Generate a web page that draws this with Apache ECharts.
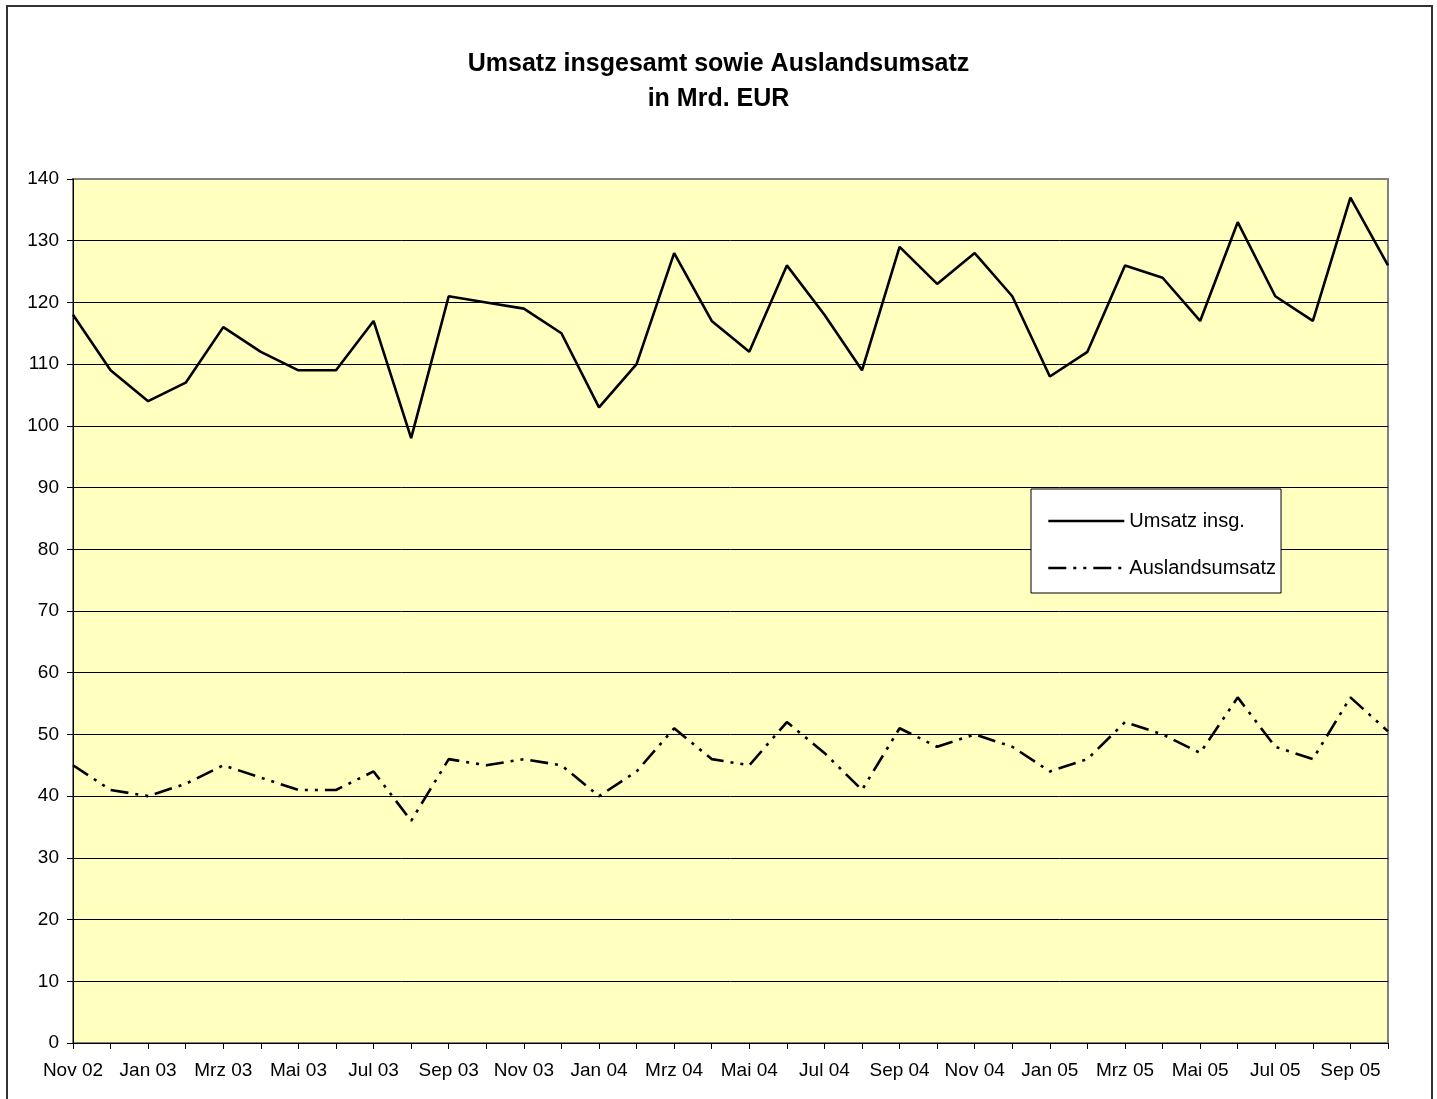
<!DOCTYPE html>
<html>
<head>
<meta charset="utf-8">
<script src="https://cdn.jsdelivr.net/npm/echarts@6/dist/echarts.min.js"></script>
<style>
html,body{margin:0;padding:0;background:#fff;}
#chart{width:1437px;height:1099px;}
</style>
</head>
<body>
<div id="chart"></div>
<script>
const categories = [
  'Nov 02','Dez 02','Jan 03','Feb 03','Mrz 03','Apr 03','Mai 03','Jun 03','Jul 03','Aug 03','Sep 03','Okt 03',
  'Nov 03','Dez 03','Jan 04','Feb 04','Mrz 04','Apr 04','Mai 04','Jun 04','Jul 04','Aug 04','Sep 04','Okt 04',
  'Nov 04','Dez 04','Jan 05','Feb 05','Mrz 05','Apr 05','Mai 05','Jun 05','Jul 05','Aug 05','Sep 05','Okt 05'
];
const umsatzInsg = [
  118, 109, 104, 107, 116, 112, 109, 109, 117, 98, 121, 120,
  119, 115, 103, 110, 128, 117, 112, 126, 118, 109, 129, 123,
  128, 121, 108, 112, 126, 124, 117, 133, 121, 117, 137, 126
];
const auslandsumsatz = [
  45, 41, 40, 42, 45, 43, 41, 41, 44, 36, 46, 45,
  46, 45, 40, 44, 51, 46, 45, 52, 47, 41, 51, 48,
  50, 48, 44, 46, 52, 50, 47, 56, 48, 46, 56, 50.5
];
const seriesNames = ['Umsatz insg.', 'Auslandsumsatz'];
const titleText = 'Umsatz insgesamt sowie Auslandsumsatz\nin Mrd. EUR';

const FONT = 'Arial, "Liberation Sans", sans-serif';
const chart = echarts.init(document.getElementById('chart'), null, {renderer: 'canvas'});
chart.setOption({
  animation: false,
  backgroundColor: '#ffffff',
  title: {
    text: titleText,
    left: 'center',
    top: 42,
    textStyle: {fontFamily: FONT, fontSize: 25, fontWeight: 'bold', color: '#000', lineHeight: 35}
  },
  graphic: [{
    type: 'rect',
    shape: {x: 7, y: 6, width: 1425, height: 1110},
    style: {fill: 'none', stroke: '#333333', lineWidth: 2},
    silent: true,
    z: 100
  }],
  legend: {
    orient: 'vertical',
    left: 1031,
    top: 489,
    padding: [22, 5, 15, 16],
    itemGap: 27,
    itemWidth: 76,
    itemHeight: 20,
    backgroundColor: '#ffffff',
    borderColor: '#000',
    borderWidth: 1,
    itemStyle: {opacity: 0},
    lineStyle: {width: 2.6},
    textStyle: {fontFamily: FONT, fontSize: 20, color: '#000'},
    data: seriesNames
  },
  grid: {
    left: 73, right: 49, top: 179, bottom: 56,
    show: true,
    backgroundColor: '#FFFFC0',
    borderColor: '#808080',
    borderWidth: 2
  },
  xAxis: {
    type: 'category',
    data: categories,
    boundaryGap: false,
    axisLine: {lineStyle: {color: '#000', width: 1}},
    axisTick: {show: true, interval: 0, length: 6, lineStyle: {color: '#000'}},
    axisLabel: {interval: 1, margin: 18, color: '#000', fontFamily: FONT, fontSize: 19},
    splitLine: {show: false}
  },
  yAxis: {
    type: 'value',
    min: 0, max: 140, interval: 10,
    axisLine: {show: true, lineStyle: {color: '#000', width: 1}},
    axisTick: {show: true, length: 6, lineStyle: {color: '#000'}},
    axisLabel: {margin: 14, color: '#000', fontFamily: FONT, fontSize: 19},
    splitLine: {show: true, showMaxLine: false, lineStyle: {color: '#000', width: 1}}
  },
  series: [
    {
      name: seriesNames[0],
      type: 'line',
      data: umsatzInsg,
      symbol: 'none',
      lineStyle: {color: '#000', width: 2.6},
      itemStyle: {color: '#000'}
    },
    {
      name: seriesNames[1],
      type: 'line',
      data: auslandsumsatz,
      symbol: 'none',
      lineStyle: {color: '#000', width: 2.6, type: [18, 7, 3, 7, 3, 7]},
      itemStyle: {color: '#000'}
    }
  ]
});
</script>
</body>
</html>
